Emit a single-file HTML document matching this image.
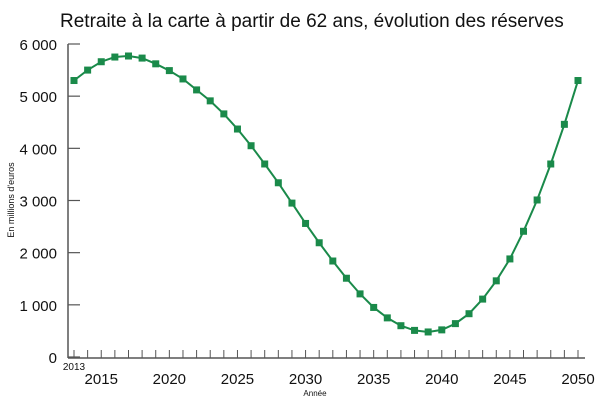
<!DOCTYPE html>
<html><head><meta charset="utf-8"><style>
body{margin:0;background:#fff;}
svg{display:block;font-family:"Liberation Sans",sans-serif;}
</style></head><body>
<svg id="c" width="600" height="400">
<text x="60" y="27" font-size="19" fill="#111">Retraite à la carte à partir de 62 ans, évolution des réserves</text>
<text transform="translate(14,200) rotate(-90)" text-anchor="middle" font-size="9" fill="#111">En millions d'euros</text>
<text x="315" y="396" text-anchor="middle" font-size="8" fill="#111">Année</text>
<g id="axes"></g><g id="plot"></g>
</svg>
<script>
const years=[2013,2014,2015,2016,2017,2018,2019,2020,2021,2022,2023,2024,2025,2026,2027,2028,2029,2030,2031,2032,2033,2034,2035,2036,2037,2038,2039,2040,2041,2042,2043,2044,2045,2046,2047,2048,2049,2050];
const reserves=[5300,5500,5660,5750,5770,5730,5620,5490,5330,5120,4910,4660,4370,4050,3700,3340,2950,2560,2190,1840,1510,1210,950,750,600,510,480,520,640,830,1110,1460,1880,2410,3010,3700,4460,5300];
const yTicks=[0,1000,2000,3000,4000,5000,6000];
const yTickLabels=["0","1 000","2 000","3 000","4 000","5 000","6 000"];
const xTickLabels=[2015,2020,2025,2030,2035,2040,2045,2050];
const NS="http://www.w3.org/2000/svg";
const X=v=>74+(v-2013)*(504/37);
const Y=v=>357-v*(313/6000);
function mk(t,a,p){const e=document.createElementNS(NS,t);for(const k in a)e.setAttribute(k,a[k]);p.appendChild(e);return e;}
const ax=document.getElementById('axes'),pl=document.getElementById('plot');
let e=mk('line',{x1:68,y1:44,x2:68,y2:358,stroke:'#555','stroke-width':1.5},ax);


e=mk('line',{x1:68,y1:358,x2:585,y2:358,stroke:'#555','stroke-width':1.5},ax);


yTicks.forEach((v,i)=>{
 const t=mk('line',{x1:68,x2:80,y1:Y(v),y2:Y(v),stroke:'#555','stroke-width':1.2},ax);
 
 
 const l=mk('text',{x:57,y:Y(v)+6,'text-anchor':'end','font-size':15,fill:'#111'},ax);
 l.textContent=yTickLabels[i];
 
 
});
years.forEach(y=>{
 const t=mk('line',{x1:X(y),x2:X(y),y1:350,y2:358,stroke:'#555','stroke-width':1},ax);
 
 
});
xTickLabels.forEach(y=>{
 const l=mk('text',{x:X(y),y:384,'text-anchor':'middle','font-size':15,fill:'#111'},ax);
 l.textContent=y;
 
 
});
e=mk('text',{x:X(2013),y:370,'text-anchor':'middle','font-size':10,fill:'#111'},ax);
e.textContent='2013';


const pts=years.map((y,i)=>X(y)+','+Y(reserves[i])).join(' ');
e=mk('polyline',{points:pts,fill:'none',stroke:'#1a8a4a','stroke-width':2},pl);


years.forEach((y,i)=>{
 const r=mk('rect',{x:X(y)-3.5,y:Y(reserves[i])-3.5,width:7,height:7,fill:'#1a8a4a'},pl);
 
 
});
</script>
</body></html>
